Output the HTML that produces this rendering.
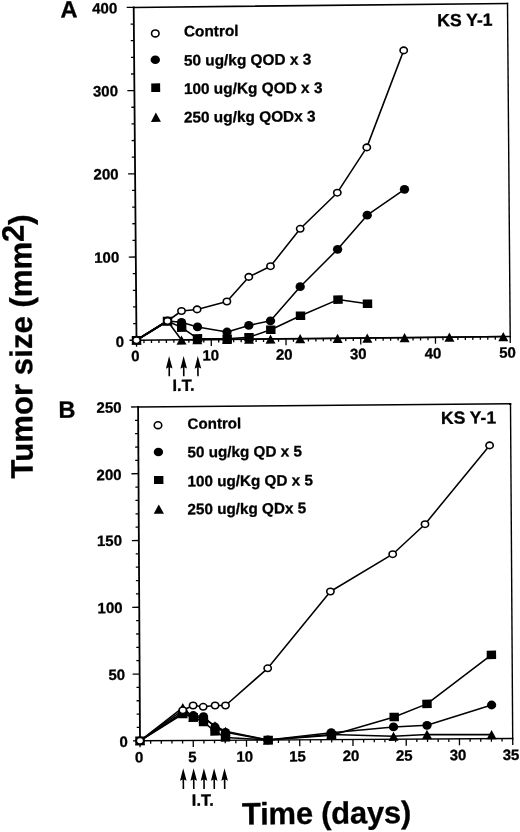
<!DOCTYPE html>
<html><head><meta charset="utf-8"><title>Tumor size vs time</title>
<style>html,body{margin:0;padding:0;background:#fff;}svg{display:block;}text{font-family:'Liberation Sans', Arial, Helvetica, sans-serif;font-weight:bold;fill:#000;stroke:#000;stroke-width:0.3px;stroke-linejoin:round;}svg{will-change:transform;}</style>
</head><body>
<svg width="520" height="832" viewBox="0 0 520 832">
<rect width="520" height="832" fill="#fff"/>
<line x1="136.50" y1="340.20" x2="133.70" y2="7.40" stroke="#000" stroke-width="1.8" stroke-linecap="square"/>
<line x1="133.70" y1="7.40" x2="507.50" y2="3.50" stroke="#000" stroke-width="1.55" stroke-linecap="square"/>
<line x1="507.50" y1="3.50" x2="510.20" y2="336.50" stroke="#000" stroke-width="1.4" stroke-linecap="square"/>
<line x1="510.20" y1="336.50" x2="136.50" y2="340.20" stroke="#000" stroke-width="1.4" stroke-linecap="square"/>
<line x1="136.50" y1="340.20" x2="136.55" y2="346.70" stroke="#000" stroke-width="1.3" stroke-linecap="butt"/>
<line x1="143.97" y1="340.13" x2="144.00" y2="343.13" stroke="#000" stroke-width="1.3" stroke-linecap="butt"/>
<line x1="151.45" y1="340.05" x2="151.47" y2="343.05" stroke="#000" stroke-width="1.3" stroke-linecap="butt"/>
<line x1="158.92" y1="339.98" x2="158.95" y2="342.98" stroke="#000" stroke-width="1.3" stroke-linecap="butt"/>
<line x1="166.40" y1="339.90" x2="166.42" y2="342.90" stroke="#000" stroke-width="1.3" stroke-linecap="butt"/>
<line x1="173.87" y1="339.83" x2="173.90" y2="342.83" stroke="#000" stroke-width="1.3" stroke-linecap="butt"/>
<line x1="181.34" y1="339.76" x2="181.37" y2="342.76" stroke="#000" stroke-width="1.3" stroke-linecap="butt"/>
<line x1="188.82" y1="339.68" x2="188.84" y2="342.68" stroke="#000" stroke-width="1.3" stroke-linecap="butt"/>
<line x1="196.29" y1="339.61" x2="196.32" y2="342.61" stroke="#000" stroke-width="1.3" stroke-linecap="butt"/>
<line x1="203.77" y1="339.53" x2="203.79" y2="342.53" stroke="#000" stroke-width="1.3" stroke-linecap="butt"/>
<line x1="211.24" y1="339.46" x2="211.29" y2="345.96" stroke="#000" stroke-width="1.3" stroke-linecap="butt"/>
<line x1="218.71" y1="339.39" x2="218.74" y2="342.39" stroke="#000" stroke-width="1.3" stroke-linecap="butt"/>
<line x1="226.19" y1="339.31" x2="226.21" y2="342.31" stroke="#000" stroke-width="1.3" stroke-linecap="butt"/>
<line x1="233.66" y1="339.24" x2="233.69" y2="342.24" stroke="#000" stroke-width="1.3" stroke-linecap="butt"/>
<line x1="241.14" y1="339.16" x2="241.16" y2="342.16" stroke="#000" stroke-width="1.3" stroke-linecap="butt"/>
<line x1="248.61" y1="339.09" x2="248.64" y2="342.09" stroke="#000" stroke-width="1.3" stroke-linecap="butt"/>
<line x1="256.08" y1="339.02" x2="256.11" y2="342.02" stroke="#000" stroke-width="1.3" stroke-linecap="butt"/>
<line x1="263.56" y1="338.94" x2="263.58" y2="341.94" stroke="#000" stroke-width="1.3" stroke-linecap="butt"/>
<line x1="271.03" y1="338.87" x2="271.06" y2="341.87" stroke="#000" stroke-width="1.3" stroke-linecap="butt"/>
<line x1="278.51" y1="338.79" x2="278.53" y2="341.79" stroke="#000" stroke-width="1.3" stroke-linecap="butt"/>
<line x1="285.98" y1="338.72" x2="286.03" y2="345.22" stroke="#000" stroke-width="1.3" stroke-linecap="butt"/>
<line x1="293.45" y1="338.65" x2="293.48" y2="341.65" stroke="#000" stroke-width="1.3" stroke-linecap="butt"/>
<line x1="300.93" y1="338.57" x2="300.95" y2="341.57" stroke="#000" stroke-width="1.3" stroke-linecap="butt"/>
<line x1="308.40" y1="338.50" x2="308.43" y2="341.50" stroke="#000" stroke-width="1.3" stroke-linecap="butt"/>
<line x1="315.88" y1="338.42" x2="315.90" y2="341.42" stroke="#000" stroke-width="1.3" stroke-linecap="butt"/>
<line x1="323.35" y1="338.35" x2="323.38" y2="341.35" stroke="#000" stroke-width="1.3" stroke-linecap="butt"/>
<line x1="330.82" y1="338.28" x2="330.85" y2="341.28" stroke="#000" stroke-width="1.3" stroke-linecap="butt"/>
<line x1="338.30" y1="338.20" x2="338.32" y2="341.20" stroke="#000" stroke-width="1.3" stroke-linecap="butt"/>
<line x1="345.77" y1="338.13" x2="345.80" y2="341.13" stroke="#000" stroke-width="1.3" stroke-linecap="butt"/>
<line x1="353.25" y1="338.05" x2="353.27" y2="341.05" stroke="#000" stroke-width="1.3" stroke-linecap="butt"/>
<line x1="360.72" y1="337.98" x2="360.77" y2="344.48" stroke="#000" stroke-width="1.3" stroke-linecap="butt"/>
<line x1="368.19" y1="337.91" x2="368.22" y2="340.91" stroke="#000" stroke-width="1.3" stroke-linecap="butt"/>
<line x1="375.67" y1="337.83" x2="375.69" y2="340.83" stroke="#000" stroke-width="1.3" stroke-linecap="butt"/>
<line x1="383.14" y1="337.76" x2="383.17" y2="340.76" stroke="#000" stroke-width="1.3" stroke-linecap="butt"/>
<line x1="390.62" y1="337.68" x2="390.64" y2="340.68" stroke="#000" stroke-width="1.3" stroke-linecap="butt"/>
<line x1="398.09" y1="337.61" x2="398.12" y2="340.61" stroke="#000" stroke-width="1.3" stroke-linecap="butt"/>
<line x1="405.56" y1="337.54" x2="405.59" y2="340.54" stroke="#000" stroke-width="1.3" stroke-linecap="butt"/>
<line x1="413.04" y1="337.46" x2="413.06" y2="340.46" stroke="#000" stroke-width="1.3" stroke-linecap="butt"/>
<line x1="420.51" y1="337.39" x2="420.54" y2="340.39" stroke="#000" stroke-width="1.3" stroke-linecap="butt"/>
<line x1="427.99" y1="337.31" x2="428.01" y2="340.31" stroke="#000" stroke-width="1.3" stroke-linecap="butt"/>
<line x1="435.46" y1="337.24" x2="435.51" y2="343.74" stroke="#000" stroke-width="1.3" stroke-linecap="butt"/>
<line x1="442.93" y1="337.17" x2="442.96" y2="340.17" stroke="#000" stroke-width="1.3" stroke-linecap="butt"/>
<line x1="450.41" y1="337.09" x2="450.43" y2="340.09" stroke="#000" stroke-width="1.3" stroke-linecap="butt"/>
<line x1="457.88" y1="337.02" x2="457.91" y2="340.02" stroke="#000" stroke-width="1.3" stroke-linecap="butt"/>
<line x1="465.36" y1="336.94" x2="465.38" y2="339.94" stroke="#000" stroke-width="1.3" stroke-linecap="butt"/>
<line x1="472.83" y1="336.87" x2="472.86" y2="339.87" stroke="#000" stroke-width="1.3" stroke-linecap="butt"/>
<line x1="480.30" y1="336.80" x2="480.33" y2="339.80" stroke="#000" stroke-width="1.3" stroke-linecap="butt"/>
<line x1="487.78" y1="336.72" x2="487.80" y2="339.72" stroke="#000" stroke-width="1.3" stroke-linecap="butt"/>
<line x1="495.25" y1="336.65" x2="495.28" y2="339.65" stroke="#000" stroke-width="1.3" stroke-linecap="butt"/>
<line x1="502.73" y1="336.57" x2="502.75" y2="339.57" stroke="#000" stroke-width="1.3" stroke-linecap="butt"/>
<line x1="510.20" y1="336.50" x2="510.25" y2="343.00" stroke="#000" stroke-width="1.3" stroke-linecap="butt"/>
<line x1="136.50" y1="340.20" x2="129.50" y2="340.27" stroke="#000" stroke-width="1.3" stroke-linecap="butt"/>
<line x1="136.36" y1="323.56" x2="133.16" y2="323.59" stroke="#000" stroke-width="1.3" stroke-linecap="butt"/>
<line x1="136.22" y1="306.92" x2="133.02" y2="306.95" stroke="#000" stroke-width="1.3" stroke-linecap="butt"/>
<line x1="136.08" y1="290.28" x2="132.88" y2="290.31" stroke="#000" stroke-width="1.3" stroke-linecap="butt"/>
<line x1="135.94" y1="273.64" x2="132.74" y2="273.67" stroke="#000" stroke-width="1.3" stroke-linecap="butt"/>
<line x1="135.80" y1="257.00" x2="128.80" y2="257.07" stroke="#000" stroke-width="1.3" stroke-linecap="butt"/>
<line x1="135.66" y1="240.36" x2="132.46" y2="240.39" stroke="#000" stroke-width="1.3" stroke-linecap="butt"/>
<line x1="135.52" y1="223.72" x2="132.32" y2="223.75" stroke="#000" stroke-width="1.3" stroke-linecap="butt"/>
<line x1="135.38" y1="207.08" x2="132.18" y2="207.11" stroke="#000" stroke-width="1.3" stroke-linecap="butt"/>
<line x1="135.24" y1="190.44" x2="132.04" y2="190.47" stroke="#000" stroke-width="1.3" stroke-linecap="butt"/>
<line x1="135.10" y1="173.80" x2="128.10" y2="173.87" stroke="#000" stroke-width="1.3" stroke-linecap="butt"/>
<line x1="134.96" y1="157.16" x2="131.76" y2="157.19" stroke="#000" stroke-width="1.3" stroke-linecap="butt"/>
<line x1="134.82" y1="140.52" x2="131.62" y2="140.55" stroke="#000" stroke-width="1.3" stroke-linecap="butt"/>
<line x1="134.68" y1="123.88" x2="131.48" y2="123.91" stroke="#000" stroke-width="1.3" stroke-linecap="butt"/>
<line x1="134.54" y1="107.24" x2="131.34" y2="107.27" stroke="#000" stroke-width="1.3" stroke-linecap="butt"/>
<line x1="134.40" y1="90.60" x2="127.40" y2="90.67" stroke="#000" stroke-width="1.3" stroke-linecap="butt"/>
<line x1="134.26" y1="73.96" x2="131.06" y2="73.99" stroke="#000" stroke-width="1.3" stroke-linecap="butt"/>
<line x1="134.12" y1="57.32" x2="130.92" y2="57.35" stroke="#000" stroke-width="1.3" stroke-linecap="butt"/>
<line x1="133.98" y1="40.68" x2="130.78" y2="40.71" stroke="#000" stroke-width="1.3" stroke-linecap="butt"/>
<line x1="133.84" y1="24.04" x2="130.64" y2="24.07" stroke="#000" stroke-width="1.3" stroke-linecap="butt"/>
<line x1="133.70" y1="7.40" x2="126.70" y2="7.47" stroke="#000" stroke-width="1.3" stroke-linecap="butt"/>
<polyline points="136.50,340.20 167.50,321.00 181.50,340.00 197.30,339.70 227.00,339.40 249.00,339.20 270.50,339.00 300.20,338.70 337.60,338.40 367.30,338.10 404.60,337.70 449.40,337.20 503.30,336.60" fill="none" stroke="#000" stroke-width="1.55" stroke-linejoin="round"/>
<polyline points="136.50,340.20 167.50,321.00 181.70,327.60 197.50,338.40 227.20,338.70 249.00,337.20 270.80,329.70 300.50,315.80 338.00,299.60 367.50,303.70" fill="none" stroke="#000" stroke-width="1.55" stroke-linejoin="round"/>
<polyline points="136.50,340.20 167.50,321.00 181.50,322.30 197.50,326.90 227.00,332.00 248.80,325.40 270.50,320.80 300.20,286.70 337.60,249.30 367.20,215.20 404.50,189.30" fill="none" stroke="#000" stroke-width="1.55" stroke-linejoin="round"/>
<polyline points="136.50,340.20 167.50,321.00 181.50,311.00 197.10,309.40 226.90,301.50 248.80,276.90 270.50,266.20 300.20,228.80 337.30,192.70 366.80,147.40 403.70,50.40" fill="none" stroke="#000" stroke-width="1.55" stroke-linejoin="round"/>
<polyline points="136.50,340.20 167.50,321.00" fill="none" stroke="#000" stroke-width="2.1" stroke-linejoin="round"/>
<polygon points="136.50,335.60 141.50,344.80 131.50,344.80" fill="#000" transform="rotate(-0.53 136.50 340.20)"/>
<polygon points="167.50,316.40 172.50,325.60 162.50,325.60" fill="#000" transform="rotate(-0.53 167.50 321.00)"/>
<polygon points="181.50,335.40 186.50,344.60 176.50,344.60" fill="#000" transform="rotate(-0.53 181.50 340.00)"/>
<polygon points="197.30,335.10 202.30,344.30 192.30,344.30" fill="#000" transform="rotate(-0.53 197.30 339.70)"/>
<polygon points="227.00,334.80 232.00,344.00 222.00,344.00" fill="#000" transform="rotate(-0.53 227.00 339.40)"/>
<polygon points="249.00,334.60 254.00,343.80 244.00,343.80" fill="#000" transform="rotate(-0.53 249.00 339.20)"/>
<polygon points="270.50,334.40 275.50,343.60 265.50,343.60" fill="#000" transform="rotate(-0.53 270.50 339.00)"/>
<polygon points="300.20,334.10 305.20,343.30 295.20,343.30" fill="#000" transform="rotate(-0.53 300.20 338.70)"/>
<polygon points="337.60,333.80 342.60,343.00 332.60,343.00" fill="#000" transform="rotate(-0.53 337.60 338.40)"/>
<polygon points="367.30,333.50 372.30,342.70 362.30,342.70" fill="#000" transform="rotate(-0.53 367.30 338.10)"/>
<polygon points="404.60,333.10 409.60,342.30 399.60,342.30" fill="#000" transform="rotate(-0.53 404.60 337.70)"/>
<polygon points="449.40,332.60 454.40,341.80 444.40,341.80" fill="#000" transform="rotate(-0.53 449.40 337.20)"/>
<polygon points="503.30,332.00 508.30,341.20 498.30,341.20" fill="#000" transform="rotate(-0.53 503.30 336.60)"/>
<rect x="131.80" y="335.95" width="9.4" height="8.5" fill="#000" transform="rotate(-0.53 136.50 340.20)"/>
<rect x="162.80" y="316.75" width="9.4" height="8.5" fill="#000" transform="rotate(-0.53 167.50 321.00)"/>
<rect x="177.00" y="323.35" width="9.4" height="8.5" fill="#000" transform="rotate(-0.53 181.70 327.60)"/>
<rect x="192.80" y="334.15" width="9.4" height="8.5" fill="#000" transform="rotate(-0.53 197.50 338.40)"/>
<rect x="222.50" y="334.45" width="9.4" height="8.5" fill="#000" transform="rotate(-0.53 227.20 338.70)"/>
<rect x="244.30" y="332.95" width="9.4" height="8.5" fill="#000" transform="rotate(-0.53 249.00 337.20)"/>
<rect x="266.10" y="325.45" width="9.4" height="8.5" fill="#000" transform="rotate(-0.53 270.80 329.70)"/>
<rect x="295.80" y="311.55" width="9.4" height="8.5" fill="#000" transform="rotate(-0.53 300.50 315.80)"/>
<rect x="333.30" y="295.35" width="9.4" height="8.5" fill="#000" transform="rotate(-0.53 338.00 299.60)"/>
<rect x="362.80" y="299.45" width="9.4" height="8.5" fill="#000" transform="rotate(-0.53 367.50 303.70)"/>
<ellipse cx="136.50" cy="340.20" rx="4.65" ry="4.4" fill="#000"/>
<ellipse cx="167.50" cy="321.00" rx="4.65" ry="4.4" fill="#000"/>
<ellipse cx="181.50" cy="322.30" rx="4.65" ry="4.4" fill="#000"/>
<ellipse cx="197.50" cy="326.90" rx="4.65" ry="4.4" fill="#000"/>
<ellipse cx="227.00" cy="332.00" rx="4.65" ry="4.4" fill="#000"/>
<ellipse cx="248.80" cy="325.40" rx="4.65" ry="4.4" fill="#000"/>
<ellipse cx="270.50" cy="320.80" rx="4.65" ry="4.4" fill="#000"/>
<ellipse cx="300.20" cy="286.70" rx="4.65" ry="4.4" fill="#000"/>
<ellipse cx="337.60" cy="249.30" rx="4.65" ry="4.4" fill="#000"/>
<ellipse cx="367.20" cy="215.20" rx="4.65" ry="4.4" fill="#000"/>
<ellipse cx="404.50" cy="189.30" rx="4.65" ry="4.4" fill="#000"/>
<ellipse cx="136.50" cy="340.20" rx="3.65" ry="3.25" fill="#fff" stroke="#000" stroke-width="1.6"/>
<ellipse cx="167.50" cy="321.00" rx="3.65" ry="3.25" fill="#fff" stroke="#000" stroke-width="1.6"/>
<ellipse cx="181.50" cy="311.00" rx="3.65" ry="3.25" fill="#fff" stroke="#000" stroke-width="1.6"/>
<ellipse cx="197.10" cy="309.40" rx="3.65" ry="3.25" fill="#fff" stroke="#000" stroke-width="1.6"/>
<ellipse cx="226.90" cy="301.50" rx="3.65" ry="3.25" fill="#fff" stroke="#000" stroke-width="1.6"/>
<ellipse cx="248.80" cy="276.90" rx="3.65" ry="3.25" fill="#fff" stroke="#000" stroke-width="1.6"/>
<ellipse cx="270.50" cy="266.20" rx="3.65" ry="3.25" fill="#fff" stroke="#000" stroke-width="1.6"/>
<ellipse cx="300.20" cy="228.80" rx="3.65" ry="3.25" fill="#fff" stroke="#000" stroke-width="1.6"/>
<ellipse cx="337.30" cy="192.70" rx="3.65" ry="3.25" fill="#fff" stroke="#000" stroke-width="1.6"/>
<ellipse cx="366.80" cy="147.40" rx="3.65" ry="3.25" fill="#fff" stroke="#000" stroke-width="1.6"/>
<ellipse cx="403.70" cy="50.40" rx="3.65" ry="3.25" fill="#fff" stroke="#000" stroke-width="1.6"/>
<ellipse cx="155.30" cy="33.40" rx="3.75" ry="3.45" fill="#fff" stroke="#000" stroke-width="1.6"/>
<ellipse cx="155.30" cy="59.70" rx="4.7" ry="4.3" fill="#000"/>
<rect x="151.25" y="83.40" width="8.9" height="8.6" fill="#000" transform="rotate(-0.53 155.70 87.70)"/>
<polygon points="155.90,112.50 160.90,121.90 150.90,121.90" fill="#000" transform="rotate(-0.53 155.90 117.20)"/>
<text x="183.90" y="36.50" font-size="15.4" text-anchor="start" transform="rotate(-0.53 183.90 36.50)" >Control</text>
<text x="183.90" y="65.70" font-size="15.4" text-anchor="start" transform="rotate(-0.53 183.90 65.70)" >50 ug/kg QOD x 3</text>
<text x="183.90" y="94.10" font-size="15.4" text-anchor="start" transform="rotate(-0.53 183.90 94.10)" >100 ug/Kg QOD x 3</text>
<text x="183.90" y="122.60" font-size="15.4" text-anchor="start" transform="rotate(-0.53 183.90 122.60)" >250 ug/kg QODx 3</text>
<text x="437.20" y="26.30" font-size="17.6" text-anchor="start" transform="rotate(-0.53 437.20 26.30)" >KS Y-1</text>
<text x="60.60" y="17.40" font-size="23.6" text-anchor="start" transform="rotate(-0.53 60.60 17.40)" >A</text>
<text x="117.30" y="13.35" font-size="15" text-anchor="end" transform="rotate(-0.53 117.30 13.35)" >400</text>
<text x="118.00" y="96.25" font-size="15" text-anchor="end" transform="rotate(-0.53 118.00 96.25)" >300</text>
<text x="118.60" y="179.35" font-size="15" text-anchor="end" transform="rotate(-0.53 118.60 179.35)" >200</text>
<text x="119.30" y="262.55" font-size="15" text-anchor="end" transform="rotate(-0.53 119.30 262.55)" >100</text>
<text x="124.20" y="346.85" font-size="15" text-anchor="end" transform="rotate(-0.53 124.20 346.85)" >0</text>
<text x="135.40" y="361.10" font-size="15" text-anchor="middle" transform="rotate(-0.53 135.40 361.10)" >0</text>
<text x="210.80" y="360.50" font-size="15" text-anchor="middle" transform="rotate(-0.53 210.80 360.50)" >10</text>
<text x="284.30" y="359.80" font-size="15" text-anchor="middle" transform="rotate(-0.53 284.30 359.80)" >20</text>
<text x="358.30" y="359.10" font-size="15" text-anchor="middle" transform="rotate(-0.53 358.30 359.10)" >30</text>
<text x="433.00" y="358.40" font-size="15" text-anchor="middle" transform="rotate(-0.53 433.00 358.40)" >40</text>
<text x="507.50" y="357.70" font-size="15" text-anchor="middle" transform="rotate(-0.53 507.50 357.70)" >50</text>
<g transform="rotate(-0.53 169.10 356.10)"><line x1="169.10" y1="366.60" x2="169.10" y2="376.20" stroke="#000" stroke-width="1.6"/><polygon points="169.10,356.10 172.40,368.60 169.10,367.10 165.80,368.60" fill="#000"/></g>
<g transform="rotate(-0.53 183.60 356.10)"><line x1="183.60" y1="366.60" x2="183.60" y2="376.20" stroke="#000" stroke-width="1.6"/><polygon points="183.60,356.10 186.90,368.60 183.60,367.10 180.30,368.60" fill="#000"/></g>
<g transform="rotate(-0.53 197.80 356.10)"><line x1="197.80" y1="366.60" x2="197.80" y2="376.20" stroke="#000" stroke-width="1.6"/><polygon points="197.80,356.10 201.10,368.60 197.80,367.10 194.50,368.60" fill="#000"/></g>
<text x="172.50" y="391.00" font-size="16.5" text-anchor="start" transform="rotate(-0.53 172.50 391.00)" >I.T.</text>
<line x1="140.00" y1="740.80" x2="138.10" y2="406.95" stroke="#000" stroke-width="1.8" stroke-linecap="square"/>
<line x1="138.10" y1="406.95" x2="510.50" y2="403.80" stroke="#000" stroke-width="1.55" stroke-linecap="square"/>
<line x1="510.50" y1="403.80" x2="512.70" y2="738.50" stroke="#000" stroke-width="1.4" stroke-linecap="square"/>
<line x1="512.70" y1="738.50" x2="140.00" y2="740.80" stroke="#000" stroke-width="1.4" stroke-linecap="square"/>
<line x1="140.00" y1="740.80" x2="140.04" y2="747.30" stroke="#000" stroke-width="1.3" stroke-linecap="butt"/>
<line x1="150.65" y1="740.73" x2="150.67" y2="743.73" stroke="#000" stroke-width="1.3" stroke-linecap="butt"/>
<line x1="161.30" y1="740.67" x2="161.31" y2="743.67" stroke="#000" stroke-width="1.3" stroke-linecap="butt"/>
<line x1="171.95" y1="740.60" x2="171.96" y2="743.60" stroke="#000" stroke-width="1.3" stroke-linecap="butt"/>
<line x1="182.59" y1="740.54" x2="182.61" y2="743.54" stroke="#000" stroke-width="1.3" stroke-linecap="butt"/>
<line x1="193.24" y1="740.47" x2="193.28" y2="746.97" stroke="#000" stroke-width="1.3" stroke-linecap="butt"/>
<line x1="203.89" y1="740.41" x2="203.91" y2="743.41" stroke="#000" stroke-width="1.3" stroke-linecap="butt"/>
<line x1="214.54" y1="740.34" x2="214.56" y2="743.34" stroke="#000" stroke-width="1.3" stroke-linecap="butt"/>
<line x1="225.19" y1="740.27" x2="225.21" y2="743.27" stroke="#000" stroke-width="1.3" stroke-linecap="butt"/>
<line x1="235.84" y1="740.21" x2="235.85" y2="743.21" stroke="#000" stroke-width="1.3" stroke-linecap="butt"/>
<line x1="246.49" y1="740.14" x2="246.52" y2="746.64" stroke="#000" stroke-width="1.3" stroke-linecap="butt"/>
<line x1="257.13" y1="740.08" x2="257.15" y2="743.08" stroke="#000" stroke-width="1.3" stroke-linecap="butt"/>
<line x1="267.78" y1="740.01" x2="267.80" y2="743.01" stroke="#000" stroke-width="1.3" stroke-linecap="butt"/>
<line x1="278.43" y1="739.95" x2="278.45" y2="742.95" stroke="#000" stroke-width="1.3" stroke-linecap="butt"/>
<line x1="289.08" y1="739.88" x2="289.10" y2="742.88" stroke="#000" stroke-width="1.3" stroke-linecap="butt"/>
<line x1="299.73" y1="739.81" x2="299.77" y2="746.31" stroke="#000" stroke-width="1.3" stroke-linecap="butt"/>
<line x1="310.38" y1="739.75" x2="310.39" y2="742.75" stroke="#000" stroke-width="1.3" stroke-linecap="butt"/>
<line x1="321.03" y1="739.68" x2="321.04" y2="742.68" stroke="#000" stroke-width="1.3" stroke-linecap="butt"/>
<line x1="331.67" y1="739.62" x2="331.69" y2="742.62" stroke="#000" stroke-width="1.3" stroke-linecap="butt"/>
<line x1="342.32" y1="739.55" x2="342.34" y2="742.55" stroke="#000" stroke-width="1.3" stroke-linecap="butt"/>
<line x1="352.97" y1="739.49" x2="353.01" y2="745.99" stroke="#000" stroke-width="1.3" stroke-linecap="butt"/>
<line x1="363.62" y1="739.42" x2="363.64" y2="742.42" stroke="#000" stroke-width="1.3" stroke-linecap="butt"/>
<line x1="374.27" y1="739.35" x2="374.29" y2="742.35" stroke="#000" stroke-width="1.3" stroke-linecap="butt"/>
<line x1="384.92" y1="739.29" x2="384.93" y2="742.29" stroke="#000" stroke-width="1.3" stroke-linecap="butt"/>
<line x1="395.57" y1="739.22" x2="395.58" y2="742.22" stroke="#000" stroke-width="1.3" stroke-linecap="butt"/>
<line x1="406.21" y1="739.16" x2="406.25" y2="745.66" stroke="#000" stroke-width="1.3" stroke-linecap="butt"/>
<line x1="416.86" y1="739.09" x2="416.88" y2="742.09" stroke="#000" stroke-width="1.3" stroke-linecap="butt"/>
<line x1="427.51" y1="739.03" x2="427.53" y2="742.03" stroke="#000" stroke-width="1.3" stroke-linecap="butt"/>
<line x1="438.16" y1="738.96" x2="438.18" y2="741.96" stroke="#000" stroke-width="1.3" stroke-linecap="butt"/>
<line x1="448.81" y1="738.89" x2="448.83" y2="741.89" stroke="#000" stroke-width="1.3" stroke-linecap="butt"/>
<line x1="459.46" y1="738.83" x2="459.49" y2="745.33" stroke="#000" stroke-width="1.3" stroke-linecap="butt"/>
<line x1="470.11" y1="738.76" x2="470.12" y2="741.76" stroke="#000" stroke-width="1.3" stroke-linecap="butt"/>
<line x1="480.75" y1="738.70" x2="480.77" y2="741.70" stroke="#000" stroke-width="1.3" stroke-linecap="butt"/>
<line x1="491.40" y1="738.63" x2="491.42" y2="741.63" stroke="#000" stroke-width="1.3" stroke-linecap="butt"/>
<line x1="502.05" y1="738.57" x2="502.07" y2="741.57" stroke="#000" stroke-width="1.3" stroke-linecap="butt"/>
<line x1="512.70" y1="738.50" x2="512.74" y2="745.00" stroke="#000" stroke-width="1.3" stroke-linecap="butt"/>
<line x1="140.00" y1="740.80" x2="133.00" y2="740.84" stroke="#000" stroke-width="1.3" stroke-linecap="butt"/>
<line x1="139.92" y1="727.45" x2="136.72" y2="727.47" stroke="#000" stroke-width="1.3" stroke-linecap="butt"/>
<line x1="139.85" y1="714.09" x2="136.65" y2="714.11" stroke="#000" stroke-width="1.3" stroke-linecap="butt"/>
<line x1="139.77" y1="700.74" x2="136.57" y2="700.76" stroke="#000" stroke-width="1.3" stroke-linecap="butt"/>
<line x1="139.70" y1="687.38" x2="136.50" y2="687.40" stroke="#000" stroke-width="1.3" stroke-linecap="butt"/>
<line x1="139.62" y1="674.03" x2="132.62" y2="674.07" stroke="#000" stroke-width="1.3" stroke-linecap="butt"/>
<line x1="139.54" y1="660.68" x2="136.34" y2="660.70" stroke="#000" stroke-width="1.3" stroke-linecap="butt"/>
<line x1="139.47" y1="647.32" x2="136.27" y2="647.34" stroke="#000" stroke-width="1.3" stroke-linecap="butt"/>
<line x1="139.39" y1="633.97" x2="136.19" y2="633.99" stroke="#000" stroke-width="1.3" stroke-linecap="butt"/>
<line x1="139.32" y1="620.61" x2="136.12" y2="620.63" stroke="#000" stroke-width="1.3" stroke-linecap="butt"/>
<line x1="139.24" y1="607.26" x2="132.24" y2="607.30" stroke="#000" stroke-width="1.3" stroke-linecap="butt"/>
<line x1="139.16" y1="593.91" x2="135.96" y2="593.93" stroke="#000" stroke-width="1.3" stroke-linecap="butt"/>
<line x1="139.09" y1="580.55" x2="135.89" y2="580.57" stroke="#000" stroke-width="1.3" stroke-linecap="butt"/>
<line x1="139.01" y1="567.20" x2="135.81" y2="567.22" stroke="#000" stroke-width="1.3" stroke-linecap="butt"/>
<line x1="138.94" y1="553.84" x2="135.74" y2="553.86" stroke="#000" stroke-width="1.3" stroke-linecap="butt"/>
<line x1="138.86" y1="540.49" x2="131.86" y2="540.53" stroke="#000" stroke-width="1.3" stroke-linecap="butt"/>
<line x1="138.78" y1="527.14" x2="135.58" y2="527.16" stroke="#000" stroke-width="1.3" stroke-linecap="butt"/>
<line x1="138.71" y1="513.78" x2="135.51" y2="513.80" stroke="#000" stroke-width="1.3" stroke-linecap="butt"/>
<line x1="138.63" y1="500.43" x2="135.43" y2="500.45" stroke="#000" stroke-width="1.3" stroke-linecap="butt"/>
<line x1="138.56" y1="487.07" x2="135.36" y2="487.09" stroke="#000" stroke-width="1.3" stroke-linecap="butt"/>
<line x1="138.48" y1="473.72" x2="131.48" y2="473.76" stroke="#000" stroke-width="1.3" stroke-linecap="butt"/>
<line x1="138.40" y1="460.37" x2="135.20" y2="460.39" stroke="#000" stroke-width="1.3" stroke-linecap="butt"/>
<line x1="138.33" y1="447.01" x2="135.13" y2="447.03" stroke="#000" stroke-width="1.3" stroke-linecap="butt"/>
<line x1="138.25" y1="433.66" x2="135.05" y2="433.68" stroke="#000" stroke-width="1.3" stroke-linecap="butt"/>
<line x1="138.18" y1="420.30" x2="134.98" y2="420.32" stroke="#000" stroke-width="1.3" stroke-linecap="butt"/>
<line x1="138.10" y1="406.95" x2="131.10" y2="406.99" stroke="#000" stroke-width="1.3" stroke-linecap="butt"/>
<polyline points="140.00,740.80 182.80,707.70 193.30,717.30 203.50,718.00 215.00,725.90 225.50,731.30 267.90,740.00 331.20,734.50 393.50,736.30 427.00,734.40 491.60,734.60" fill="none" stroke="#000" stroke-width="1.55" stroke-linejoin="round"/>
<polyline points="140.00,740.80 182.80,714.00 193.30,717.30 203.50,722.00 215.00,731.40 225.50,737.40 268.20,740.00 331.50,735.20 394.20,717.00 427.00,703.90 491.40,654.90" fill="none" stroke="#000" stroke-width="1.55" stroke-linejoin="round"/>
<polyline points="140.00,740.80 182.80,712.50 193.30,715.50 203.50,716.60 215.00,727.00 225.50,732.30 267.90,740.00 331.20,732.70 393.50,726.90 427.00,725.30 491.60,705.00" fill="none" stroke="#000" stroke-width="1.55" stroke-linejoin="round"/>
<polyline points="140.00,740.80 182.80,710.20 193.10,705.50 203.20,706.80 215.10,705.50 225.50,705.50 267.70,668.30 330.40,591.50 392.70,554.20 425.00,524.20 489.60,445.40" fill="none" stroke="#000" stroke-width="1.55" stroke-linejoin="round"/>
<polygon points="140.00,736.20 145.00,745.40 135.00,745.40" fill="#000" transform="rotate(-0.53 140.00 740.80)"/>
<polygon points="182.80,703.10 187.80,712.30 177.80,712.30" fill="#000" transform="rotate(-0.53 182.80 707.70)"/>
<polygon points="193.30,712.70 198.30,721.90 188.30,721.90" fill="#000" transform="rotate(-0.53 193.30 717.30)"/>
<polygon points="203.50,713.40 208.50,722.60 198.50,722.60" fill="#000" transform="rotate(-0.53 203.50 718.00)"/>
<polygon points="215.00,721.30 220.00,730.50 210.00,730.50" fill="#000" transform="rotate(-0.53 215.00 725.90)"/>
<polygon points="225.50,726.70 230.50,735.90 220.50,735.90" fill="#000" transform="rotate(-0.53 225.50 731.30)"/>
<polygon points="267.90,735.40 272.90,744.60 262.90,744.60" fill="#000" transform="rotate(-0.53 267.90 740.00)"/>
<polygon points="331.20,729.90 336.20,739.10 326.20,739.10" fill="#000" transform="rotate(-0.53 331.20 734.50)"/>
<polygon points="393.50,731.70 398.50,740.90 388.50,740.90" fill="#000" transform="rotate(-0.53 393.50 736.30)"/>
<polygon points="427.00,729.80 432.00,739.00 422.00,739.00" fill="#000" transform="rotate(-0.53 427.00 734.40)"/>
<polygon points="491.60,730.00 496.60,739.20 486.60,739.20" fill="#000" transform="rotate(-0.53 491.60 734.60)"/>
<rect x="135.30" y="736.55" width="9.4" height="8.5" fill="#000" transform="rotate(-0.53 140.00 740.80)"/>
<rect x="178.10" y="709.75" width="9.4" height="8.5" fill="#000" transform="rotate(-0.53 182.80 714.00)"/>
<rect x="188.60" y="713.05" width="9.4" height="8.5" fill="#000" transform="rotate(-0.53 193.30 717.30)"/>
<rect x="198.80" y="717.75" width="9.4" height="8.5" fill="#000" transform="rotate(-0.53 203.50 722.00)"/>
<rect x="210.30" y="727.15" width="9.4" height="8.5" fill="#000" transform="rotate(-0.53 215.00 731.40)"/>
<rect x="220.80" y="733.15" width="9.4" height="8.5" fill="#000" transform="rotate(-0.53 225.50 737.40)"/>
<rect x="263.50" y="735.75" width="9.4" height="8.5" fill="#000" transform="rotate(-0.53 268.20 740.00)"/>
<rect x="326.80" y="730.95" width="9.4" height="8.5" fill="#000" transform="rotate(-0.53 331.50 735.20)"/>
<rect x="389.50" y="712.75" width="9.4" height="8.5" fill="#000" transform="rotate(-0.53 394.20 717.00)"/>
<rect x="422.30" y="699.65" width="9.4" height="8.5" fill="#000" transform="rotate(-0.53 427.00 703.90)"/>
<rect x="486.70" y="650.65" width="9.4" height="8.5" fill="#000" transform="rotate(-0.53 491.40 654.90)"/>
<ellipse cx="140.00" cy="740.80" rx="4.65" ry="4.4" fill="#000"/>
<ellipse cx="182.80" cy="712.50" rx="4.65" ry="4.4" fill="#000"/>
<ellipse cx="193.30" cy="715.50" rx="4.65" ry="4.4" fill="#000"/>
<ellipse cx="203.50" cy="716.60" rx="4.65" ry="4.4" fill="#000"/>
<ellipse cx="215.00" cy="727.00" rx="4.65" ry="4.4" fill="#000"/>
<ellipse cx="225.50" cy="732.30" rx="4.65" ry="4.4" fill="#000"/>
<ellipse cx="267.90" cy="740.00" rx="4.65" ry="4.4" fill="#000"/>
<ellipse cx="331.20" cy="732.70" rx="4.65" ry="4.4" fill="#000"/>
<ellipse cx="393.50" cy="726.90" rx="4.65" ry="4.4" fill="#000"/>
<ellipse cx="427.00" cy="725.30" rx="4.65" ry="4.4" fill="#000"/>
<ellipse cx="491.60" cy="705.00" rx="4.65" ry="4.4" fill="#000"/>
<ellipse cx="140.00" cy="740.80" rx="3.65" ry="3.25" fill="#fff" stroke="#000" stroke-width="1.6"/>
<ellipse cx="182.80" cy="710.20" rx="3.65" ry="3.25" fill="#fff" stroke="#000" stroke-width="1.6"/>
<ellipse cx="193.10" cy="705.50" rx="3.65" ry="3.25" fill="#fff" stroke="#000" stroke-width="1.6"/>
<ellipse cx="203.20" cy="706.80" rx="3.65" ry="3.25" fill="#fff" stroke="#000" stroke-width="1.6"/>
<ellipse cx="215.10" cy="705.50" rx="3.65" ry="3.25" fill="#fff" stroke="#000" stroke-width="1.6"/>
<ellipse cx="225.50" cy="705.50" rx="3.65" ry="3.25" fill="#fff" stroke="#000" stroke-width="1.6"/>
<ellipse cx="267.70" cy="668.30" rx="3.65" ry="3.25" fill="#fff" stroke="#000" stroke-width="1.6"/>
<ellipse cx="330.40" cy="591.50" rx="3.65" ry="3.25" fill="#fff" stroke="#000" stroke-width="1.6"/>
<ellipse cx="392.70" cy="554.20" rx="3.65" ry="3.25" fill="#fff" stroke="#000" stroke-width="1.6"/>
<ellipse cx="425.00" cy="524.20" rx="3.65" ry="3.25" fill="#fff" stroke="#000" stroke-width="1.6"/>
<ellipse cx="489.60" cy="445.40" rx="3.65" ry="3.25" fill="#fff" stroke="#000" stroke-width="1.6"/>
<ellipse cx="158.00" cy="425.20" rx="3.75" ry="3.45" fill="#fff" stroke="#000" stroke-width="1.6"/>
<ellipse cx="158.40" cy="452.00" rx="4.7" ry="4.3" fill="#000"/>
<rect x="154.00" y="476.00" width="9.4" height="8.0" fill="#000" transform="rotate(-0.53 158.70 480.00)"/>
<polygon points="158.80,504.50 163.90,513.70 153.70,513.70" fill="#000" transform="rotate(-0.53 158.80 509.10)"/>
<text x="187.60" y="428.90" font-size="15.1" text-anchor="start" transform="rotate(-0.53 187.60 428.90)" >Control</text>
<text x="187.50" y="457.40" font-size="15.25" text-anchor="start" transform="rotate(-0.53 187.50 457.40)" >50 ug/kg QD x 5</text>
<text x="187.50" y="486.50" font-size="15.25" text-anchor="start" transform="rotate(-0.53 187.50 486.50)" >100 ug/Kg QD x 5</text>
<text x="187.50" y="514.40" font-size="15.25" text-anchor="start" transform="rotate(-0.53 187.50 514.40)" >250 ug/kg QDx 5</text>
<text x="441.00" y="423.90" font-size="17.5" text-anchor="start" transform="rotate(-0.53 441.00 423.90)" >KS Y-1</text>
<text x="58.60" y="417.80" font-size="23.6" text-anchor="start" transform="rotate(-0.53 58.60 417.80)" >B</text>
<text x="121.60" y="412.65" font-size="15" text-anchor="end" transform="rotate(-0.53 121.60 412.65)" >250</text>
<text x="121.60" y="479.95" font-size="15" text-anchor="end" transform="rotate(-0.53 121.60 479.95)" >200</text>
<text x="122.00" y="545.75" font-size="15" text-anchor="end" transform="rotate(-0.53 122.00 545.75)" >150</text>
<text x="122.60" y="612.95" font-size="15" text-anchor="end" transform="rotate(-0.53 122.60 612.95)" >100</text>
<text x="125.20" y="679.95" font-size="15" text-anchor="end" transform="rotate(-0.53 125.20 679.95)" >50</text>
<text x="127.80" y="746.85" font-size="15" text-anchor="end" transform="rotate(-0.53 127.80 746.85)" >0</text>
<text x="139.20" y="762.40" font-size="15" text-anchor="middle" transform="rotate(-0.53 139.20 762.40)" >0</text>
<text x="192.30" y="762.10" font-size="15" text-anchor="middle" transform="rotate(-0.53 192.30 762.10)" >5</text>
<text x="244.80" y="761.80" font-size="15" text-anchor="middle" transform="rotate(-0.53 244.80 761.80)" >10</text>
<text x="297.50" y="761.40" font-size="15" text-anchor="middle" transform="rotate(-0.53 297.50 761.40)" >15</text>
<text x="351.00" y="761.00" font-size="15" text-anchor="middle" transform="rotate(-0.53 351.00 761.00)" >20</text>
<text x="404.30" y="760.70" font-size="15" text-anchor="middle" transform="rotate(-0.53 404.30 760.70)" >25</text>
<text x="458.00" y="760.30" font-size="15" text-anchor="middle" transform="rotate(-0.53 458.00 760.30)" >30</text>
<text x="511.00" y="760.00" font-size="15" text-anchor="middle" transform="rotate(-0.53 511.00 760.00)" >35</text>
<g transform="rotate(-0.53 183.20 768.30)"><line x1="183.20" y1="778.80" x2="183.20" y2="788.90" stroke="#000" stroke-width="1.6"/><polygon points="183.20,768.30 186.50,780.80 183.20,779.30 179.90,780.80" fill="#000"/></g>
<g transform="rotate(-0.53 193.60 768.30)"><line x1="193.60" y1="778.80" x2="193.60" y2="788.90" stroke="#000" stroke-width="1.6"/><polygon points="193.60,768.30 196.90,780.80 193.60,779.30 190.30,780.80" fill="#000"/></g>
<g transform="rotate(-0.53 203.90 768.30)"><line x1="203.90" y1="778.80" x2="203.90" y2="788.90" stroke="#000" stroke-width="1.6"/><polygon points="203.90,768.30 207.20,780.80 203.90,779.30 200.60,780.80" fill="#000"/></g>
<g transform="rotate(-0.53 214.10 768.30)"><line x1="214.10" y1="778.80" x2="214.10" y2="788.90" stroke="#000" stroke-width="1.6"/><polygon points="214.10,768.30 217.40,780.80 214.10,779.30 210.80,780.80" fill="#000"/></g>
<g transform="rotate(-0.53 224.50 768.30)"><line x1="224.50" y1="778.80" x2="224.50" y2="788.90" stroke="#000" stroke-width="1.6"/><polygon points="224.50,768.30 227.80,780.80 224.50,779.30 221.20,780.80" fill="#000"/></g>
<text x="191.80" y="805.80" font-size="16.5" text-anchor="start" transform="rotate(-0.53 191.80 805.80)" >I.T.</text>
<text x="242.10" y="824.60" font-size="31" text-anchor="start" transform="rotate(-0.53 242.10 824.60)" letter-spacing="-0.25">Time (days)</text>
<g transform="translate(32.8 478.5) rotate(-90.35)"><text x="0" y="0" font-size="31.2">Tumor size (mm<tspan x="236.6" y="-7.5" font-size="31">2</tspan><tspan x="253.6" y="0" font-size="32">)</tspan></text></g>
</svg></body></html>
